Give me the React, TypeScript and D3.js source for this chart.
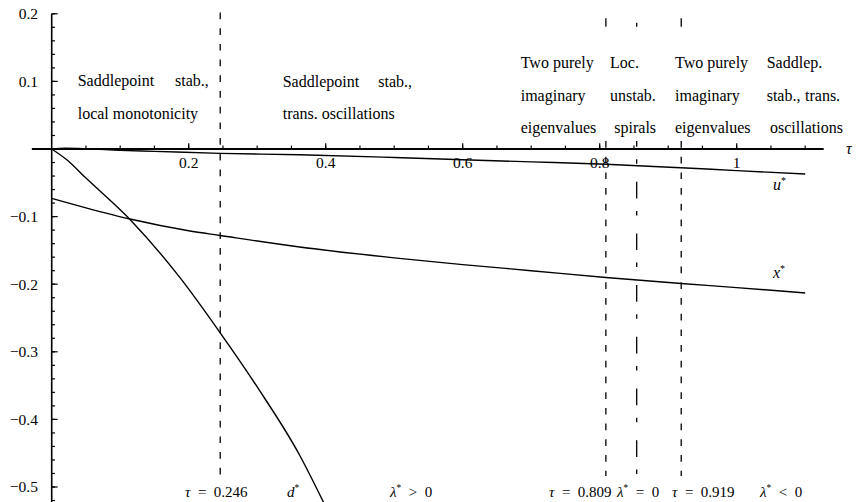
import React from "react";
import * as d3 from "d3";

// Equilibrium values as functions of the delay parameter τ
const uStar: [number, number][] = [
  [0, 0], [0.02, 0.001], [0.05, 0.0003], [0.1, -0.002], [0.15, -0.0035],
  [0.246, -0.0064], [0.362, -0.0085], [0.5, -0.0125], [0.6, -0.0158],
  [0.7, -0.019], [0.809, -0.0225], [0.919, -0.0277], [1.0, -0.032], [1.1, -0.037],
];
const xStar: [number, number][] = [
  [0, -0.073], [0.05, -0.087], [0.116, -0.104], [0.2, -0.121], [0.246, -0.128],
  [0.362, -0.145], [0.5, -0.161], [0.6, -0.171], [0.7, -0.18], [0.809, -0.19],
  [0.919, -0.199], [1.0, -0.205], [1.1, -0.213],
];
const dStar: [number, number][] = [
  [0, 0], [0.022, -0.016], [0.05, -0.043], [0.116, -0.106], [0.187, -0.19],
  [0.246, -0.272], [0.3, -0.352], [0.362, -0.453], [0.397, -0.523],
];

// Bifurcation values of τ
const tauThresholds = [0.246, 0.809, 0.919];
const tauLambdaZero = 0.854;

const xMajorTicks = [0.2, 0.4, 0.6, 0.8, 1];
const xMajorLabels = ["0.2", "0.4", "0.6", "0.8", "1"];
const yMajorTicks = [0.2, 0.1, -0.1, -0.2, -0.3, -0.4, -0.5];
const yMajorLabels = ["0.2", "0.1", "\u22120.1", "\u22120.2", "\u22120.3", "\u22120.4", "\u22120.5"];

const W = 860;
const H = 502;
const serif = "'Liberation Serif', 'Times New Roman', serif";
const SP = "\u2002";

// Region descriptions: each word group with its left edge and baseline
const regionWords: { t: string; x: number; y: number }[] = [
  { t: "Saddlepoint", x: 77.7, y: 86 }, { t: "stab.,", x: 175, y: 86 },
  { t: "local monotonicity", x: 77.7, y: 119 },
  { t: "Saddlepoint", x: 282.7, y: 87 }, { t: "stab.,", x: 378.3, y: 87 },
  { t: "trans. oscillations", x: 282.7, y: 119 },
  { t: "Two purely", x: 520.7, y: 68 },
  { t: "imaginary", x: 520.7, y: 101 }, { t: "eigenvalues", x: 520.7, y: 133 },
  { t: "Loc.", x: 610, y: 68 }, { t: "unstab.", x: 610, y: 101 },
  { t: "spirals", x: 614.3, y: 133 },
  { t: "Two purely", x: 675, y: 68 },
  { t: "imaginary", x: 675, y: 101 }, { t: "eigenvalues", x: 675, y: 133 },
  { t: "Saddlep.", x: 766.7, y: 68 }, { t: "stab.,", x: 766.7, y: 101 },
  { t: "trans.", x: 805, y: 101 }, { t: "oscillations", x: 770, y: 133 },
];

const Star = ({ fs }: { fs: number }) => (
  <tspan fontStyle="normal" fontSize={fs * 0.62} dy={-fs * 0.38}>
    *
  </tspan>
);

export default function App() {
  const x = d3.scaleLinear().domain([0, 1]).range([51.7, 736.7]);
  const y = d3.scaleLinear().domain([0, -0.5]).range([149, 487]);

  const line = d3
    .line<[number, number]>()
    .x((d) => x(d[0]))
    .y((d) => y(d[1]))
    .curve(d3.curveMonotoneX);

  const xMinor = d3.range(1, 23).map((i) => +(i * 0.05).toFixed(2));
  const yMinor = d3.range(-26, 11).map((i) => +(i * 0.02).toFixed(2));

  const x0 = x(0);
  const y0 = y(0);
  const lineTop = y(0.2) - 1.3;
  const lineBottom = 476;

  const bfs = 15;
  const by = 496.5;

  return (
    <svg
      width={W}
      height={H}
      viewBox={`0 0 ${W} ${H}`}
      style={{ position: "absolute", left: 0, top: 0, background: "#fff" }}
    >
      <rect width={W} height={H} fill="#fff" />

      {/* Vertical threshold lines */}
      <line
        x1={x(tauThresholds[0])} x2={x(tauThresholds[0])}
        y1={lineTop} y2={lineBottom}
        stroke="#000" strokeWidth={1.3} strokeDasharray="6.7,9"
      />
      {tauThresholds.slice(1).map((t) => (
        <g key={t}>
          <line x1={x(t)} x2={x(t)} y1={18.3} y2={26.7} stroke="#000" strokeWidth={1.3} />
          <line
            x1={x(t)} x2={x(t)} y1={141} y2={lineBottom}
            stroke="#000" strokeWidth={1.3} strokeDasharray="6.7,9"
          />
        </g>
      ))}
      <line x1={x(tauLambdaZero)} x2={x(tauLambdaZero)} y1={22.7} y2={26.7} stroke="#000" strokeWidth={1.3} />
      <line
        x1={x(tauLambdaZero)} x2={x(tauLambdaZero)} y1={141} y2={lineBottom}
        stroke="#000" strokeWidth={1.3} strokeDasharray="16.7,12.5,4.5,18" strokeDashoffset={11}
      />

      {/* Axes */}
      <line x1={x(-0.029)} x2={x(1.127)} y1={y0} y2={y0} stroke="#000" strokeWidth={1.8} />
      <line x1={x0} x2={x0} y1={y(0.2)} y2={H} stroke="#000" strokeWidth={1.6} />
      {xMinor.map((t) => (
        <line key={"xm" + t} x1={x(t)} x2={x(t)} y1={y0} y2={y0 - 3.4} stroke="#000" strokeWidth={1.2} />
      ))}
      {xMajorTicks.map((t) => (
        <line key={"xM" + t} x1={x(t)} x2={x(t)} y1={y0} y2={y0 - 5.7} stroke="#000" strokeWidth={1.2} />
      ))}
      {xMajorTicks.map((t, i) => (
        <text key={"xl" + t} x={x(t)} y={168} textAnchor="middle" fontFamily={serif} fontSize={15.5}>
          {xMajorLabels[i]}
        </text>
      ))}
      {yMinor.map((v) => (
        <line key={"ym" + v} x1={x0} x2={x0 + 3.3} y1={y(v)} y2={y(v)} stroke="#000" strokeWidth={1.2} />
      ))}
      {yMajorTicks.map((v) => (
        <line key={"yM" + v} x1={x0} x2={x0 + 6} y1={y(v)} y2={y(v)} stroke="#000" strokeWidth={1.2} />
      ))}
      {yMajorTicks.map((v, i) => (
        <text key={"yl" + v} x={38} y={y(v)} dy="0.35em" textAnchor="end" fontFamily={serif} fontSize={15.5}>
          {yMajorLabels[i]}
        </text>
      ))}
      <text x={846} y={154} fontFamily={serif} fontStyle="italic" fontSize={16}>
        τ
      </text>

      {/* Curves */}
      <path d={line(uStar) ?? ""} fill="none" stroke="#000" strokeWidth={1.4} />
      <path d={line(xStar) ?? ""} fill="none" stroke="#000" strokeWidth={1.4} />
      <path d={line(dStar) ?? ""} fill="none" stroke="#000" strokeWidth={1.4} />

      {/* Curve names */}
      <text x={773} y={190} fontFamily={serif} fontStyle="italic" fontSize={16}>
        u<Star fs={16} />
      </text>
      <text x={773} y={278} fontFamily={serif} fontStyle="italic" fontSize={16}>
        x<Star fs={16} />
      </text>

      {/* Region descriptions */}
      {regionWords.map((w, i) => (
        <text key={"rw" + i} x={w.x} y={w.y} fontFamily={serif} fontSize={16}>
          {w.t}
        </text>
      ))}

      {/* Threshold annotations along the bottom */}
      <g fontFamily={serif} fontSize={bfs}>
        <text x={185} y={by}>
          <tspan fontStyle="italic">τ</tspan>{SP}={SP}0.246
        </text>
        <text x={287} y={by} fontStyle="italic">
          d<Star fs={bfs} />
        </text>
        <text x={390} y={by}>
          <tspan fontStyle="italic">λ</tspan>
          <Star fs={bfs} />
          <tspan dy={bfs * 0.38}>{SP}&gt;{SP}0</tspan>
        </text>
        <text x={549} y={by}>
          <tspan fontStyle="italic">τ</tspan>{SP}={SP}0.809
        </text>
        <text x={617} y={by}>
          <tspan fontStyle="italic">λ</tspan>
          <Star fs={bfs} />
          <tspan dy={bfs * 0.38}>{SP}={SP}0</tspan>
        </text>
        <text x={672} y={by}>
          <tspan fontStyle="italic">τ</tspan>{SP}={SP}0.919
        </text>
        <text x={760} y={by}>
          <tspan fontStyle="italic">λ</tspan>
          <Star fs={bfs} />
          <tspan dy={bfs * 0.38}>{SP}&lt;{SP}0</tspan>
        </text>
      </g>
    </svg>
  );
}
